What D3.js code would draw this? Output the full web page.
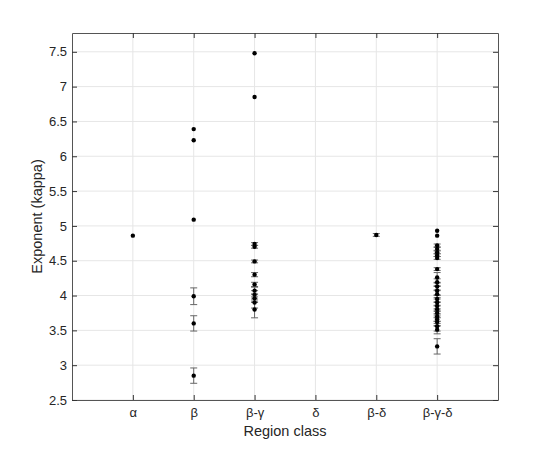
<!DOCTYPE html>
<html>
<head>
<meta charset="utf-8">
<script src="https://cdn.jsdelivr.net/npm/d3@7"></script>
<style>
body { margin: 0; background: #fff; }
svg { font-family: "Liberation Sans", Arial, sans-serif; }
</style>
</head>
<body>
<div id="chart"></div>
<script>
var categories = ["α", "β", "β-γ", "δ", "β-δ", "β-γ-δ"];
var yTicks = [2.5, 3, 3.5, 4, 4.5, 5, 5.5, 6, 6.5, 7, 7.5];

// kappa estimates per region class, with error (half-width)
var alphaVals = [4.86], alphaErr = [0.01];
var betaVals = [6.39, 6.23, 5.09, 3.99, 3.60, 2.85];
var betaErr = [0.01, 0.01, 0.01, 0.12, 0.11, 0.11];
var betaGammaVals = [7.48, 6.85, 4.74, 4.70, 4.49, 4.30, 4.16, 4.07, 4.01, 3.96, 3.90, 3.80];
var betaGammaErr = [0.01, 0.01, 0.02, 0.02, 0.02, 0.03, 0.03, 0.05, 0.06, 0.06, 0.08, 0.12];
var deltaVals = [], deltaErr = [];
var betaDeltaVals = [4.87], betaDeltaErr = [0.02];
var bgdVals = [4.93, 4.86, 4.72, 4.67, 4.62, 4.58, 4.54, 4.38, 4.26, 4.19, 4.13, 4.07, 4.02, 3.95,
               3.90, 3.85, 3.80, 3.75, 3.70, 3.66, 3.62, 3.56, 3.51, 3.27];
var bgdErr = [0.01, 0.01, 0.02, 0.02, 0.02, 0.02, 0.02, 0.02, 0.07, 0.05, 0.05, 0.06, 0.05, 0.05,
              0.05, 0.06, 0.06, 0.06, 0.07, 0.06, 0.06, 0.07, 0.06, 0.11];

var groups = [
  [alphaVals, alphaErr], [betaVals, betaErr], [betaGammaVals, betaGammaErr],
  [deltaVals, deltaErr], [betaDeltaVals, betaDeltaErr], [bgdVals, bgdErr]
];
var points = [];
groups.forEach(function(g, i) {
  g[0].forEach(function(v, j) { points.push({c: i + 1, v: v, e: g[1][j]}); });
});

var W = 550, H = 450,
    m = {left: 72, top: 33, right: 52, bottom: 50},
    iw = W - m.left - m.right, ih = H - m.top - m.bottom;

var svg = d3.select("#chart").append("svg").attr("width", W).attr("height", H);
var g = svg.append("g").attr("transform", "translate(" + m.left + "," + m.top + ")");

var x = d3.scaleLinear().domain([0, 7]).range([0, iw]);
var y = d3.scaleLinear().domain([2.5, 7.77]).range([ih, 0]);
var xt = d3.range(1, 7);

// grid
g.selectAll(".gy").data(yTicks).enter().append("line")
  .attr("x1", 0).attr("x2", iw)
  .attr("y1", function(d){ return y(d); }).attr("y2", function(d){ return y(d); })
  .attr("stroke", "#e6e6e6").attr("stroke-width", 1);
g.selectAll(".gx").data(xt).enter().append("line")
  .attr("y1", 0).attr("y2", ih)
  .attr("x1", function(d){ return x(d); }).attr("x2", function(d){ return x(d); })
  .attr("stroke", "#e6e6e6").attr("stroke-width", 1);

// axes (ticks inward on all sides)
var fmt = function(d){ return d3.format("")(d); };
var ax = g.append("g").attr("transform", "translate(0," + ih + ")")
  .call(d3.axisBottom(x).tickValues(xt).tickSizeInner(-5).tickSizeOuter(0)
    .tickFormat(function(d){ return categories[d - 1]; }).tickPadding(8));
var axT = g.append("g")
  .call(d3.axisTop(x).tickValues(xt).tickSizeInner(-5).tickSizeOuter(0).tickFormat(""));
var ay = g.append("g")
  .call(d3.axisLeft(y).tickValues(yTicks).tickSizeInner(-5).tickSizeOuter(0).tickFormat(fmt).tickPadding(5));
var ayR = g.append("g").attr("transform", "translate(" + iw + ",0)")
  .call(d3.axisRight(y).tickValues(yTicks).tickSizeInner(-5).tickSizeOuter(0).tickFormat(""));
[ax, axT, ay, ayR].forEach(function(a) {
  a.select(".domain").attr("stroke", "#555");
  a.selectAll(".tick line").attr("stroke", "#333");
  a.selectAll("text").attr("fill", "#262626").style("font-size", "13px")
    .style("font-family", "'Liberation Sans', Arial, sans-serif");
});

// error bars
var eb = g.selectAll(".eb").data(points.filter(function(d){ return d.e > 0.015; })).enter().append("g")
  .attr("stroke", "#666").attr("stroke-width", 1);
eb.append("line")
  .attr("x1", function(d){ return x(d.c); }).attr("x2", function(d){ return x(d.c); })
  .attr("y1", function(d){ return y(d.v - d.e); }).attr("y2", function(d){ return y(d.v + d.e); });
eb.append("line")
  .attr("x1", function(d){ return x(d.c) - 3.5; }).attr("x2", function(d){ return x(d.c) + 3.5; })
  .attr("y1", function(d){ return y(d.v - d.e); }).attr("y2", function(d){ return y(d.v - d.e); });
eb.append("line")
  .attr("x1", function(d){ return x(d.c) - 3.5; }).attr("x2", function(d){ return x(d.c) + 3.5; })
  .attr("y1", function(d){ return y(d.v + d.e); }).attr("y2", function(d){ return y(d.v + d.e); });

// points
g.selectAll(".pt").data(points).enter().append("circle")
  .attr("cx", function(d){ return x(d.c); })
  .attr("cy", function(d){ return y(d.v); })
  .attr("r", 2.2).attr("fill", "#000");

// labels
svg.append("text").attr("x", m.left + iw / 2).attr("y", 436)
  .attr("text-anchor", "middle").style("font-size", "14.5px").attr("fill", "#262626")
  .text("Region class");
svg.append("text").attr("transform", "translate(42," + (m.top + ih / 2) + ") rotate(-90)")
  .attr("text-anchor", "middle").style("font-size", "14.5px").attr("fill", "#262626")
  .text("Exponent (kappa)");
</script>
</body>
</html>
